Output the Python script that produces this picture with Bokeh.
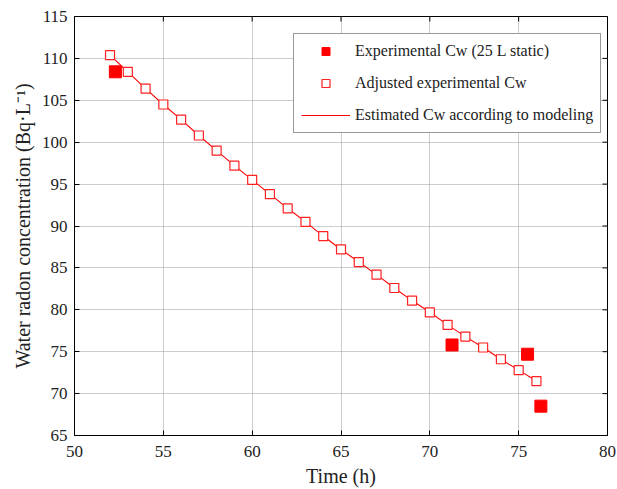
import math
from bokeh.plotting import figure
from bokeh.models import Range1d, Legend, LegendItem, FixedTicker
from bokeh.embed import file_html
from bokeh.resources import INLINE

# data
adj_t = [52, 53, 54, 55, 56, 57, 58, 59, 60, 61, 62, 63, 64, 65, 66, 67, 68, 69, 70, 71, 72, 73, 74, 75, 76]
adj_cw = [110.4, 108.4, 106.4, 104.5, 102.7, 100.8, 99.0, 97.2, 95.5, 93.8, 92.1, 90.5, 88.8, 87.2,
          85.7, 84.2, 82.6, 81.1, 79.7, 78.2, 76.8, 75.5, 74.1, 72.8, 71.5]
exp_t = [52.3, 71.25, 75.5, 76.25]
exp_cw = [108.4, 75.8, 74.7, 68.5]
model_t = adj_t
model_cw = adj_cw
x_ticks = [50, 55, 60, 65, 70, 75, 80]
y_ticks = [65, 70, 75, 80, 85, 90, 95, 100, 105, 110, 115]

FONT = "Liberation Serif"

p = figure(width=617, height=489, output_backend="svg", toolbar_location=None,
           x_range=Range1d(x_ticks[0], x_ticks[-1]), y_range=Range1d(y_ticks[0], y_ticks[-1]),
           min_border_left=74, min_border_top=16, min_border_right=10, min_border_bottom=53)
p.outline_line_color = "black"
p.outline_line_width = 1
p.background_fill_color = "white"
p.border_fill_color = "white"

for ax in (p.xaxis[0], p.yaxis[0]):
    ax.major_label_text_font = FONT
    ax.major_label_text_font_size = "17px"
    ax.major_label_text_color = "#222222"
    ax.axis_label_text_font = FONT
    ax.axis_label_text_font_size = "20px"
    ax.axis_label_text_font_style = "normal"
    ax.axis_label_text_color = "#222222"
    ax.major_tick_in = 5
    ax.major_tick_out = 0
    ax.minor_tick_in = 0
    ax.minor_tick_out = 0
    ax.axis_line_color = "black"
    ax.major_tick_line_color = "black"

p.xaxis[0].ticker = FixedTicker(ticks=x_ticks)
p.yaxis[0].ticker = FixedTicker(ticks=y_ticks)
p.xaxis[0].axis_label = "Time (h)"
p.yaxis[0].axis_label = "Water radon concentration (Bq·L⁻¹)"
p.xaxis[0].major_label_standoff = 10
p.xaxis[0].axis_label_standoff = 5
p.yaxis[0].major_label_standoff = 7
p.yaxis[0].axis_label_standoff = 5

for g in (p.xgrid[0], p.ygrid[0]):
    g.grid_line_color = "#999999"
    g.grid_line_dash = "1 1"
    g.grid_line_width = 1
p.xgrid[0].ticker = FixedTicker(ticks=x_ticks)
p.ygrid[0].ticker = FixedTicker(ticks=y_ticks)

# inward ticks on the top and right edges of the box
p.scatter(x_ticks, [y_ticks[-1]] * len(x_ticks), marker="dash", angle=math.pi / 2, size=10,
          line_color="black", line_width=1)
p.scatter([x_ticks[-1]] * len(y_ticks), y_ticks, marker="dash", size=10,
          line_color="black", line_width=1)

r_line = p.line(model_t, model_cw, line_color="#ff0000", line_width=1.1)
r_adj = p.scatter(adj_t, adj_cw, marker="square", size=9, line_color="#ff2020",
                  fill_color="white", line_width=1.2)
r_exp = p.scatter(exp_t, exp_cw, marker="square", size=12, line_color="#ff0000",
                  fill_color="#ff0000")

legend = Legend(items=[
    LegendItem(label="Experimental Cw (25 L static)", renderers=[r_exp]),
    LegendItem(label="Adjusted experimental Cw", renderers=[r_adj]),
    LegendItem(label="Estimated Cw according to modeling", renderers=[r_line]),
], location=(219, 302))
legend.label_text_font = FONT
legend.label_text_font_size = "16px"
legend.label_text_color = "#222222"
legend.border_line_color = "#333333"
legend.border_line_width = 1
legend.background_fill_color = "white"
legend.background_fill_alpha = 1
legend.glyph_width = 49
legend.glyph_height = 20
legend.spacing = 12
legend.padding = 7
legend.margin = 0
legend.label_standoff = 5
p.add_layout(legend, "center")

open("out.html", "w").write(file_html(p, INLINE))
